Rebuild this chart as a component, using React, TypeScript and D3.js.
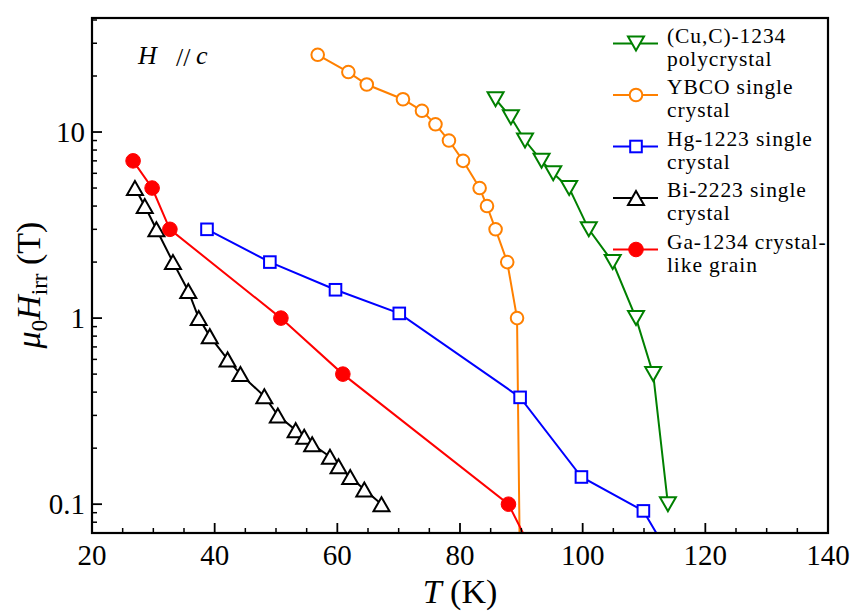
import React from "react";
import * as d3 from "d3";

// ---- data ----
const cucT = [85.8, 88.3, 90.6, 93.3, 95.2, 97.8, 101.0, 104.9, 108.7, 111.5, 113.9];
const cucH = [15, 12, 9, 7, 6, 5, 3, 2, 1, 0.5, 0.1];

const ybcoT = [56.8, 61.8, 64.8, 70.7, 73.8, 76.0, 78.2, 80.5, 83.2, 84.4, 85.8, 87.7, 89.3, 90.0];
const ybcoH = [26, 21, 18, 15, 13, 11, 9, 7, 5, 4, 3, 2, 1, 0.01];

const hgT = [38.75, 49.0, 59.7, 70.1, 89.8, 99.8, 109.9, 113.2];
const hgH = [3.0, 2.0, 1.42, 1.06, 0.375, 0.14, 0.092, 0.06];

const biT = [27.0, 28.6, 30.5, 33.2, 35.7, 37.4, 39.2, 42.1, 44.2, 48.1, 50.3, 53.2, 54.6, 55.9, 58.8, 60.2, 62.1, 64.4, 67.2];
const biH = [5, 4, 3, 2, 1.4, 1.0, 0.8, 0.6, 0.5, 0.38, 0.3, 0.25, 0.23, 0.21, 0.18, 0.16, 0.14, 0.12, 0.1];

const gaT = [26.7, 29.8, 32.7, 50.8, 60.9, 87.9, 91.3];
const gaH = [7, 5, 3, 1, 0.5, 0.1, 0.06];

const xTicks = [20, 40, 60, 80, 100, 120, 140];
const yTicks = [0.1, 1, 10];
const yTickLabels = ["0.1", "1", "10"];

const seriesNames = [
  ["(Cu,C)-1234", "polycrystal"],
  ["YBCO single", "crystal"],
  ["Hg-1223 single", "crystal"],
  ["Bi-2223 single", "crystal"],
  ["Ga-1234 crystal-", "like grain"],
];

type Marker = "down" | "circle" | "square" | "up" | "dot";

const series: { T: number[]; H: number[]; color: string; marker: Marker }[] = [
  { T: cucT, H: cucH, color: "#008000", marker: "down" },
  { T: ybcoT, H: ybcoH, color: "#ff8000", marker: "circle" },
  { T: hgT, H: hgH, color: "#0000ff", marker: "square" },
  { T: biT, H: biH, color: "#000000", marker: "up" },
  { T: gaT, H: gaH, color: "#ff0000", marker: "dot" },
];

const W = 859;
const H = 615;
const L = 92, R = 828, TOP = 18, BOT = 533;
const FONT = "Liberation Serif, DejaVu Serif, Times New Roman, serif";

function MarkerShape({ type, x, y, color }: { type: Marker; x: number; y: number; color: string }) {
  const sw = 2;
  if (type === "circle") return <circle cx={x} cy={y} r={6.3} fill="white" stroke={color} strokeWidth={sw} />;
  if (type === "dot") return <circle cx={x} cy={y} r={7.3} fill={color} stroke={color} strokeWidth={1} />;
  if (type === "square") return <rect x={x - 5.8} y={y - 5.8} width={11.6} height={11.6} fill="white" stroke={color} strokeWidth={sw} />;
  if (type === "up") {
    const p = `M${x},${y - 7}L${x - 8},${y + 7}L${x + 8},${y + 7}Z`;
    return <path d={p} fill="white" stroke={color} strokeWidth={sw} strokeLinejoin="miter" />;
  }
  const p = `M${x},${y + 7}L${x - 8},${y - 7}L${x + 8},${y - 7}Z`;
  return <path d={p} fill="white" stroke={color} strokeWidth={sw} strokeLinejoin="miter" />;
}

export default function App() {
  const x = d3.scaleLinear().domain([20, 140]).range([L, R]);
  const y = d3.scaleLog().domain([0.07, 41]).range([BOT, TOP]);
  const line = d3.line<[number, number]>().x((d) => x(d[0])).y((d) => y(d[1]));

  const xMinor = d3.range(20, 141, 5).filter((v) => v % 20 !== 0);
  const yMinor: number[] = [];
  [0.01, 0.1, 1, 10].forEach((dec) => {
    for (let k = 2; k <= 9; k++) {
      const v = dec * k;
      if (v > 0.07 && v < 41) yMinor.push(v);
    }
  });

  const legendY = [43.5, 95, 146.5, 198, 249.5];
  const ts = { fontFamily: FONT } as React.CSSProperties;

  return (
    <svg width={W} height={H} style={{ position: "absolute", left: 0, top: 0, background: "white", fontFamily: FONT }}>
      <defs>
        <clipPath id="plotclip">
          <rect x={L} y={TOP} width={R - L} height={BOT - TOP} />
        </clipPath>
      </defs>
      <rect x={0} y={0} width={W} height={H} fill="white" />

      <g clipPath="url(#plotclip)">
        {series.map((s, i) => (
          <g key={i}>
            <path d={line(s.T.map((t, j) => [t, s.H[j]] as [number, number])) || ""} fill="none" stroke={s.color} strokeWidth={2} />
            {s.T.map((t, j) => (
              <MarkerShape key={j} type={s.marker} x={x(t)} y={y(s.H[j])} color={s.color} />
            ))}
          </g>
        ))}
      </g>

      {/* axes frame */}
      <rect x={L} y={TOP} width={R - L} height={BOT - TOP} fill="none" stroke="black" strokeWidth={2.2} />

      {/* x ticks */}
      {xTicks.map((t) => (
        <g key={"xt" + t}>
          <line x1={x(t)} x2={x(t)} y1={BOT} y2={BOT - 10} stroke="black" strokeWidth={1.8} />
          <text x={x(t)} y={565} textAnchor="middle" fontSize={29} style={ts}>{t}</text>
        </g>
      ))}
      {xMinor.map((t) => (
        <line key={"xm" + t} x1={x(t)} x2={x(t)} y1={BOT} y2={BOT - 5} stroke="black" strokeWidth={1.5} />
      ))}

      {/* y ticks */}
      {yTicks.map((t, i) => (
        <g key={"yt" + t}>
          <line x1={L} x2={L + 10} y1={y(t)} y2={y(t)} stroke="black" strokeWidth={1.8} />
          <text x={85} y={y(t) + 10} textAnchor="end" fontSize={29} style={ts}>{yTickLabels[i]}</text>
        </g>
      ))}
      {yMinor.map((t) => (
        <line key={"ym" + t} x1={L} x2={L + 5} y1={y(t)} y2={y(t)} stroke="black" strokeWidth={1.5} />
      ))}

      {/* axis titles */}
      <text x={460} y={603} textAnchor="middle" fontSize={34} style={ts}>
        <tspan fontStyle="italic">T</tspan>
        <tspan> (K)</tspan>
      </text>
      <text transform="translate(40,285) rotate(-90)" textAnchor="middle" fontSize={34} style={ts}>
        <tspan fontStyle="italic">μ</tspan>
        <tspan fontSize={23} dy={7}>0</tspan>
        <tspan fontStyle="italic" dy={-7}>H</tspan>
        <tspan fontSize={23} dy={7}>irr</tspan>
        <tspan dy={-7}> (T)</tspan>
      </text>

      {/* annotation H // c */}
      <text x={138} y={64} fontSize={26} fontStyle="italic" style={ts}>H</text>
      <text x={176} y={66} fontSize={26} style={ts}>//</text>
      <text x={196} y={64} fontSize={26} fontStyle="italic" style={ts}>c</text>

      {/* legend */}
      {series.map((s, i) => (
        <g key={"lg" + i}>
          <line x1={613} x2={658} y1={legendY[i]} y2={legendY[i]} stroke={s.color} strokeWidth={2} />
          <MarkerShape type={s.marker} x={636} y={legendY[i]} color={s.color} />
          <text x={667} y={legendY[i] - 1} fontSize={21.5} letterSpacing={0.9} style={ts}>{seriesNames[i][0]}</text>
          <text x={667} y={legendY[i] + 22} fontSize={21.5} letterSpacing={0.9} style={ts}>{seriesNames[i][1]}</text>
        </g>
      ))}
    </svg>
  );
}
